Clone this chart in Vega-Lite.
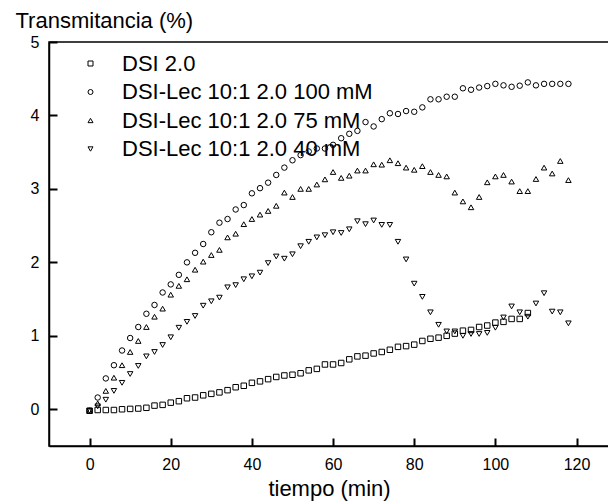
{
  "$schema": "https://vega.github.io/schema/vega-lite/v6.json",
  "width": 560,
  "height": 404,
  "autosize": "none",
  "padding": {"left": 49, "top": 42, "right": 0, "bottom": 58},
  "background": "white",
  "config": {"view": {"stroke": "black", "strokeWidth": 1.5}, "font": "Liberation Sans"},
  "data": {"values": [
    {"t": 0, "A": -0.02, "B": -0.02, "C": -0.02, "D": -0.02},
    {"t": 2, "A": -0.01, "B": 0.16, "C": 0.08, "D": 0.04},
    {"t": 4, "A": -0.01, "B": 0.42, "C": 0.25, "D": 0.13},
    {"t": 6, "A": -0.01, "B": 0.60, "C": 0.43, "D": 0.25},
    {"t": 8, "A": 0.00, "B": 0.80, "C": 0.60, "D": 0.36},
    {"t": 10, "A": 0.005, "B": 0.97, "C": 0.78, "D": 0.48},
    {"t": 12, "A": 0.01, "B": 1.12, "C": 0.93, "D": 0.59},
    {"t": 14, "A": 0.02, "B": 1.30, "C": 1.12, "D": 0.72},
    {"t": 16, "A": 0.05, "B": 1.42, "C": 1.26, "D": 0.78},
    {"t": 18, "A": 0.06, "B": 1.59, "C": 1.37, "D": 0.875},
    {"t": 20, "A": 0.09, "B": 1.70, "C": 1.56, "D": 0.98},
    {"t": 22, "A": 0.11, "B": 1.83, "C": 1.68, "D": 1.11},
    {"t": 24, "A": 0.15, "B": 2.00, "C": 1.77, "D": 1.19},
    {"t": 26, "A": 0.16, "B": 2.13, "C": 1.90, "D": 1.27},
    {"t": 28, "A": 0.19, "B": 2.25, "C": 2.01, "D": 1.41},
    {"t": 30, "A": 0.21, "B": 2.41, "C": 2.10, "D": 1.47},
    {"t": 32, "A": 0.23, "B": 2.54, "C": 2.17, "D": 1.52},
    {"t": 34, "A": 0.26, "B": 2.59, "C": 2.34, "D": 1.66},
    {"t": 36, "A": 0.30, "B": 2.72, "C": 2.39, "D": 1.69},
    {"t": 38, "A": 0.32, "B": 2.78, "C": 2.52, "D": 1.77},
    {"t": 40, "A": 0.36, "B": 2.94, "C": 2.59, "D": 1.81},
    {"t": 42, "A": 0.38, "B": 3.01, "C": 2.65, "D": 1.86},
    {"t": 44, "A": 0.41, "B": 3.085, "C": 2.70, "D": 1.99},
    {"t": 46, "A": 0.44, "B": 3.19, "C": 2.77, "D": 2.08},
    {"t": 48, "A": 0.46, "B": 3.29, "C": 2.95, "D": 2.05},
    {"t": 50, "A": 0.47, "B": 3.39, "C": 2.89, "D": 2.11},
    {"t": 52, "A": 0.49, "B": 3.46, "C": 3.00, "D": 2.22},
    {"t": 54, "A": 0.53, "B": 3.51, "C": 3.00, "D": 2.28},
    {"t": 56, "A": 0.55, "B": 3.55, "C": 3.06, "D": 2.34},
    {"t": 58, "A": 0.61, "B": 3.55, "C": 3.13, "D": 2.37},
    {"t": 60, "A": 0.61, "B": 3.60, "C": 3.23, "D": 2.41},
    {"t": 62, "A": 0.63, "B": 3.69, "C": 3.15, "D": 2.40},
    {"t": 64, "A": 0.68, "B": 3.75, "C": 3.18, "D": 2.45},
    {"t": 66, "A": 0.72, "B": 3.79, "C": 3.25, "D": 2.56},
    {"t": 68, "A": 0.73, "B": 3.91, "C": 3.25, "D": 2.52},
    {"t": 70, "A": 0.76, "B": 3.85, "C": 3.335, "D": 2.57},
    {"t": 72, "A": 0.78, "B": 3.95, "C": 3.33, "D": 2.51},
    {"t": 74, "A": 0.81, "B": 4.03, "C": 3.39, "D": 2.51},
    {"t": 76, "A": 0.85, "B": 4.02, "C": 3.35, "D": 2.28},
    {"t": 78, "A": 0.86, "B": 4.06, "C": 3.29, "D": 2.04},
    {"t": 80, "A": 0.88, "B": 4.05, "C": 3.26, "D": 1.71},
    {"t": 82, "A": 0.93, "B": 4.11, "C": 3.31, "D": 1.53},
    {"t": 84, "A": 0.96, "B": 4.22, "C": 3.23, "D": 1.32},
    {"t": 86, "A": 0.975, "B": 4.22, "C": 3.19, "D": 1.15},
    {"t": 88, "A": 1.00, "B": 4.255, "C": 3.17, "D": 1.06},
    {"t": 90, "A": 1.03, "B": 4.255, "C": 2.95, "D": 1.06},
    {"t": 92, "A": 1.07, "B": 4.37, "C": 2.83, "D": 1.00},
    {"t": 94, "A": 1.08, "B": 4.35, "C": 2.75, "D": 1.025},
    {"t": 96, "A": 1.12, "B": 4.38, "C": 2.89, "D": 1.025},
    {"t": 98, "A": 1.14, "B": 4.40, "C": 3.09, "D": 1.04},
    {"t": 100, "A": 1.18, "B": 4.43, "C": 3.17, "D": 1.11},
    {"t": 102, "A": 1.19, "B": 4.41, "C": 3.19, "D": 1.25},
    {"t": 104, "A": 1.23, "B": 4.39, "C": 3.10, "D": 1.40},
    {"t": 106, "A": 1.23, "B": 4.405, "C": 2.97, "D": 1.32},
    {"t": 108, "A": 1.31, "B": 4.45, "C": 2.97, "D": 1.26},
    {"t": 110, "B": 4.41, "C": 3.135, "D": 1.44},
    {"t": 112, "B": 4.43, "C": 3.29, "D": 1.58},
    {"t": 114, "B": 4.43, "C": 3.21, "D": 1.33},
    {"t": 116, "B": 4.43, "C": 3.38, "D": 1.32},
    {"t": 118, "B": 4.43, "C": 3.12, "D": 1.17}
  ]},
  "transform": [
    {"fold": ["A", "B", "C", "D"], "as": ["serie", "valor"]},
    {"filter": "isValid(datum.valor)"}
  ],
  "mark": {"type": "point", "filled": false, "color": "black", "opacity": 1, "strokeWidth": 1, "size": 30},
  "encoding": {
    "x": {
      "field": "t", "type": "quantitative",
      "scale": {"domain": [-10, 128], "nice": false, "zero": false},
      "axis": {
        "values": [0, 20, 40, 60, 80, 100, 120],
        "format": "d",
        "ticks": true, "tickSize": -8, "tickColor": "black", "tickWidth": 2,
        "domainColor": "black", "domainWidth": 1.5,
        "labelFontSize": 16, "labelColor": "black", "labelPadding": 18, "labelFlush": false,
        "grid": false,
        "title": "tiempo (min)", "titleFontSize": 22, "titleFontWeight": "normal", "titleColor": "black",
        "titleY": 49, "titleBaseline": "alphabetic"
      }
    },
    "y": {
      "field": "valor", "type": "quantitative",
      "scale": {"domain": [-0.5, 5], "nice": false, "zero": false},
      "axis": {
        "values": [0, 1, 2, 3, 4, 5],
        "format": "d",
        "ticks": true, "tickSize": -8, "tickColor": "black", "tickWidth": 2,
        "domainColor": "black", "domainWidth": 1.5,
        "labelFontSize": 16, "labelColor": "black", "labelPadding": 18, "labelFlush": false,
        "grid": false,
        "title": "Transmitancia (%)", "titleFontSize": 22, "titleFontWeight": "normal", "titleColor": "black",
        "titleAngle": 0, "titleAlign": "left", "titleBaseline": "alphabetic", "titleX": -34, "titleY": -15
      }
    },
    "shape": {
      "field": "serie", "type": "nominal",
      "scale": {"domain": ["A", "B", "C", "D"], "range": ["square", "circle", "triangle-up", "triangle-down"]},
      "legend": {
        "orient": "none", "legendX": 30.5, "legendY": 10.5, "title": null, "padding": 0,
        "labelFontSize": 22, "labelColor": "black", "labelOffset": 20.5, "labelLimit": 0,
        "symbolSize": 25, "symbolStrokeWidth": 1, "symbolStrokeColor": "black", "symbolFillColor": "transparent", "symbolOpacity": 1,
        "rowPadding": 6.5,
        "labelExpr": "datum.label === 'A' ? 'DSI 2.0' : datum.label === 'B' ? 'DSI-Lec 10:1 2.0 100 mM' : datum.label === 'C' ? 'DSI-Lec 10:1 2.0 75 mM' : 'DSI-Lec 10:1 2.0 40 mM'"
      }
    }
  }
}
